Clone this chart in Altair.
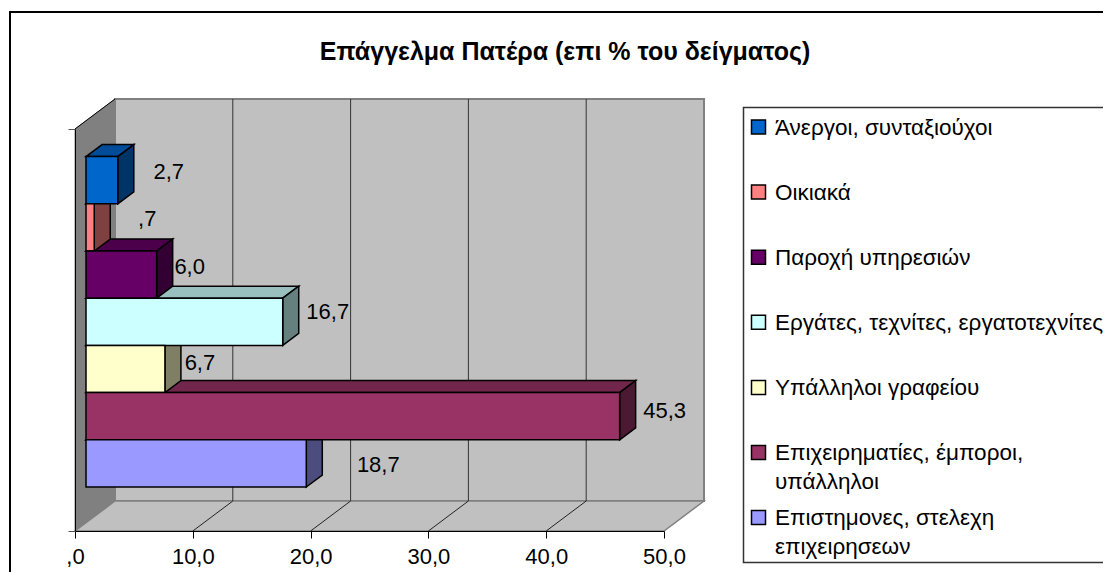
import altair as alt
import pandas as pd

# ---- chart values (top to bottom, as shown) ----
categories = ["Άνεργοι, συνταξιούχοι", "Οικιακά", "Παροχή υπηρεσιών",
              "Εργάτες, τεχνίτες, εργατοτεχνίτες", "Υπάλληλοι γραφείου",
              "Επιχειρηματίες, έμποροι,|υπάλληλοι", "Επιστημονες, στελεχη|επιχειρησεων"]
values = [2.7, 0.7, 6.0, 16.7, 6.7, 45.3, 18.7]
value_labels = ["2,7", ",7", "6,0", "16,7", "6,7", "45,3", "18,7"]
colors = ["#0066CC", "#FF8080", "#660066", "#CCFFFF", "#FFFFCC", "#993366", "#9999FF"]
title_text = "Επάγγελμα Πατέρα (επι % του δείγματος)"
axis_ticks = [0, 10, 20, 30, 40, 50]

# ---- layout constants ----
FONT = "Liberation Sans"
PX_X = 589 / 50      # pixels per value unit
PX_Y = 47.2          # pixels per category row
W, H = 589, 402
WALL_X, WALL_Y = 40 / PX_X, 30 / PX_Y
BAR_X0, BAR_Y0 = 11 / PX_X, 44 / PX_Y
BAR_DX, BAR_DY = 16 / PX_X, 12 / PX_Y
label_dx = [51, 53, 33, 45, 35, 45, 72]
label_dy = [-8, -8, -7.5, -10, -6, -5, 2]
LEG_Y0 = (531 - 127) / PX_Y
LEG_STEP = 65.1 / PX_Y


def shade(hex_color, f):
    r, g, b = (int(hex_color[i:i + 2], 16) for i in (1, 3, 5))
    return "#%02x%02x%02x" % (int(r * f), int(g * f), int(b * f))


ymax = H / PX_Y
xs = alt.Scale(domain=[0, 50], range=[0, W], nice=False, zero=False)
ys = alt.Scale(domain=[0, ymax], range=[H, 0], nice=False, zero=False)
x_axis = alt.Axis(
    values=axis_ticks, title=None, grid=False, domainColor="black", tickColor="black", domainWidth=1,
    tickWidth=1, tickSize=7, labelFont=FONT, labelFontSize=22, labelColor="black", labelPadding=8,
    labelOverlap=False, labelFlush=False, zindex=2,
    labelExpr="datum.value === 0 ? ',0' : replace(format(datum.value, '.1f'), '.', ',')")
y_axis = alt.Axis(
    values=[0, ymax], title=None, grid=False, labels=False, domainColor="black", tickColor="#555555",
    tickWidth=1, tickSize=7, domainWidth=1, zindex=2)
X = alt.X("x:Q", scale=xs, axis=x_axis)
Y = alt.Y("y:Q", scale=ys, axis=y_axis)
FILL = alt.Fill("c:N", scale=None, legend=None)

# ---- frame and chrome ----
one = pd.DataFrame({"a": [0]})
frame = [
    alt.Chart(one).mark_rule(color="black", strokeWidth=2).encode(
        x=alt.value(-65), y=alt.value(-117), y2=alt.value(460)),
    alt.Chart(one).mark_rule(color="black", strokeWidth=2).encode(
        x=alt.value(-66), x2=alt.value(1040), y=alt.value(-117)),
    alt.Chart(one).mark_rect(fill="white", stroke="#333333", strokeWidth=1.5).encode(
        x=alt.value(668.5), x2=alt.value(1060), y=alt.value(-21.5), y2=alt.value(433.5)),
]
title = alt.Chart(one).mark_text(
    text=title_text, font=FONT, fontSize=25, fontWeight="bold", color="black",
    baseline="middle", align="center").encode(x=alt.value(490), y=alt.value(-77))

# ---- 3D walls ----
wall = pd.DataFrame({"x": [0, WALL_X], "y": [0, WALL_Y], "y2": [ymax, ymax + WALL_Y]})
left_wall = alt.Chart(wall).mark_area(fill="#808080", stroke="#808080", strokeWidth=1, orient="vertical").encode(
    x=X, y=Y, y2="y2:Q")
back = pd.DataFrame({"a": [0], "x": [WALL_X], "x2": [50 + WALL_X], "y": [WALL_Y], "y2": [ymax + WALL_Y]})
back_wall = alt.Chart(back).mark_rect(fill="#C0C0C0", stroke="#808080", strokeWidth=2).encode(
    x=X, x2="x2:Q", y=Y, y2="y2:Q")
floor_df = pd.DataFrame({"y": [0, WALL_Y], "x": [0, WALL_X], "x2": [50, 50 + WALL_X]})
floor = alt.Chart(floor_df).mark_area(fill="#C0C0C0", stroke="#808080", strokeWidth=1.5, orient="horizontal").encode(
    y=Y, x=X, x2="x2:Q")
top_edge = alt.Chart(pd.DataFrame({"x": [0, WALL_X], "y": [ymax, ymax + WALL_Y]})).mark_line(
    color="black", strokeWidth=1).encode(x=X, y=Y)

grid_rows, diag_rows = [], []
for t in axis_ticks[1:-1]:
    grid_rows += [dict(t=t, x=t + WALL_X, y=WALL_Y), dict(t=t, x=t + WALL_X, y=ymax + WALL_Y)]
for t in axis_ticks[1:-1]:
    diag_rows += [dict(t=t, x=t, y=0), dict(t=t, x=t + WALL_X, y=WALL_Y)]
grid = alt.Chart(pd.DataFrame(grid_rows)).mark_line(color="#333333", strokeWidth=1).encode(
    x=X, y=Y, detail="t:N")
diag = alt.Chart(pd.DataFrame(diag_rows)).mark_line(color="#222222", strokeWidth=1).encode(
    x=X, y=Y, detail="t:N")

# ---- bars ----
n = len(values)
front_rows, top_rows, side_rows = [], [], []
for i, (v, c) in enumerate(zip(values, colors)):
    row = n - 1 - i
    yb, yt = BAR_Y0 + row, BAR_Y0 + row + 1
    xe = BAR_X0 + v
    front_rows.append(dict(cat=categories[i], x=BAR_X0, x2=xe, y=yb, y2=yt, c=c))
    top_rows += [dict(b=i, y=yt, x=BAR_X0, x2=xe, c=shade(c, .75)),
                 dict(b=i, y=yt + BAR_DY, x=BAR_X0 + BAR_DX, x2=xe + BAR_DX, c=shade(c, .75))]
    side_rows += [dict(b=i, x=xe, y=yb, y2=yt, c=shade(c, .5)),
                  dict(b=i, x=xe + BAR_DX, y=yb + BAR_DY, y2=yt + BAR_DY, c=shade(c, .5))]

tops = alt.Chart(pd.DataFrame(top_rows)).mark_area(stroke="black", strokeWidth=1.5, orient="horizontal").encode(
    y=Y, x=X, x2="x2:Q", fill=FILL, detail="b:N")
sides = alt.Chart(pd.DataFrame(side_rows)).mark_area(stroke="black", strokeWidth=1.5, orient="vertical").encode(
    x=X, y=Y, y2="y2:Q", fill=FILL, detail="b:N")
fronts = alt.Chart(pd.DataFrame(front_rows)).mark_rect(stroke="black", strokeWidth=1.5).encode(
    x=X, x2="x2:Q", y=Y, y2="y2:Q", fill=FILL)

# ---- data labels ----
lab_df = pd.DataFrame({
    "x": [BAR_X0 + v + d / PX_X for v, d in zip(values, label_dx)],
    "y": [BAR_Y0 + (n - 1 - i) + .5 - label_dy[i] / PX_Y for i in range(n)],
    "t": value_labels,
})
labels = alt.Chart(lab_df).mark_text(font=FONT, fontSize=22, color="black", baseline="middle", align="center").encode(
    x=X, y=Y, text="t:N")

# ---- legend ----
leg_df = pd.DataFrame({
    "cat": categories, "c": colors,
    "y": [LEG_Y0 - i * LEG_STEP for i in range(n)],
    "yt": [LEG_Y0 - i * LEG_STEP - 7.5 / PX_Y for i in range(n)],
})
leg_sw = alt.Chart(leg_df).mark_square(size=196, stroke="black", strokeWidth=1.5, opacity=1, fillOpacity=1).encode(
    x=alt.value(683.5), y=Y, fill=FILL)
leg_txt = alt.Chart(leg_df).mark_text(font=FONT, fontSize=22.5, color="black", align="left", baseline="alphabetic",
                                      lineBreak="|", lineHeight=28.5).encode(
    x=alt.value(700), y=alt.Y("yt:Q", scale=ys, axis=y_axis), text="cat:N")

chart = alt.layer(
    *frame, title, left_wall, back_wall, floor, top_edge, grid, diag, tops, sides, fronts, labels,
    leg_sw, leg_txt,
).properties(
    width=W, height=H, background="white",
    padding={"left": 67, "top": 121, "right": 439, "bottom": 41},
    autosize="none",
).configure_view(stroke=None)

chart.save("out.html", embed_options={"renderer": "svg", "actions": False})
